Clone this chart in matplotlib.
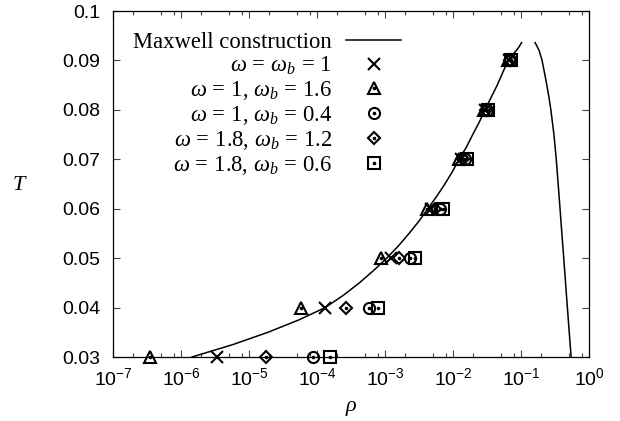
import matplotlib
matplotlib.use("Agg")
import matplotlib.pyplot as plt
from matplotlib.legend_handler import HandlerTuple
from matplotlib.ticker import LogLocator, NullFormatter, FixedLocator

# ---- data -------------------------------------------------------------
T_levels = [0.03, 0.04, 0.05, 0.06, 0.07, 0.08, 0.09]

rho_w1_wb1 = [3.4e-6, 1.32e-4, 1.23e-3, 4.8e-3, 1.32e-2, 2.95e-2, 6.6e-2]
rho_w1_wb16 = [3.5e-7, 5.8e-5, 8.7e-4, 4.2e-3, 1.23e-2, 2.9e-2, 6.4e-2]
rho_w1_wb04 = [8.7e-5, 5.8e-4, 2.35e-3, 6.5e-3, 1.5e-2, 3.15e-2, 7.0e-2]
rho_w18_wb12 = [1.78e-5, 2.7e-4, 1.63e-3, 5.5e-3, 1.4e-2, 3.05e-2, 6.8e-2]
rho_w18_wb06 = [1.55e-4, 7.9e-4, 2.77e-3, 7.1e-3, 1.6e-2, 3.25e-2, 7.1e-2]

# Maxwell construction: gas branch and liquid branch
T_gas = [0.030, 0.0325, 0.035, 0.0375, 0.040, 0.0425, 0.045, 0.0475, 0.050,
         0.0525, 0.055, 0.0575, 0.060, 0.0625, 0.065, 0.0675, 0.070, 0.0725,
         0.075, 0.0775, 0.080, 0.0825, 0.085, 0.0875, 0.090, 0.0925, 0.0936]
rho_gas = [1.45e-6, 5.75e-6, 1.9e-5, 5.4e-5, 1.32e-4, 2.45e-4, 4.2e-4, 6.8e-4,
           1.06e-3, 1.58e-3, 2.26e-3, 3.16e-3, 4.27e-3, 5.75e-3, 7.6e-3,
           9.8e-3, 1.23e-2, 1.58e-2, 1.95e-2, 2.43e-2, 2.95e-2, 3.63e-2,
           4.47e-2, 5.37e-2, 6.46e-2, 9.1e-2, 0.102]
T_liq = [0.0936, 0.093, 0.092, 0.090, 0.088, 0.085, 0.0825, 0.080, 0.075,
         0.070, 0.065, 0.060, 0.055, 0.050, 0.045, 0.040, 0.035, 0.030]
rho_liq = [0.161, 0.170, 0.185, 0.204, 0.218, 0.240, 0.258, 0.275, 0.305,
           0.330, 0.352, 0.375, 0.399, 0.425, 0.452, 0.481, 0.512, 0.546]

series_labels = [r"$\omega\,=\,\omega_b\,=\,1$",
                 r"$\omega\,=\,1$, $\omega_b\,=\,1.6$",
                 r"$\omega\,=\,1$, $\omega_b\,=\,0.4$",
                 r"$\omega\,=\,1.8$, $\omega_b\,=\,1.2$",
                 r"$\omega\,=\,1.8$, $\omega_b\,=\,0.6$"]

# ---- style ------------------------------------------------------------
plt.rcParams["font.family"] = ["Liberation Sans", "DejaVu Sans"]
plt.rcParams["mathtext.fontset"] = "custom"
plt.rcParams["mathtext.rm"] = "Liberation Serif"
plt.rcParams["mathtext.it"] = "Liberation Serif:italic"
plt.rcParams["mathtext.bf"] = "Liberation Serif:bold"
plt.rcParams["axes.unicode_minus"] = False

fig = plt.figure(figsize=(6.2, 4.21), dpi=100)
ax = fig.add_axes([113 / 620, 1 - 357 / 421, 476 / 620, 346 / 421])

ax.set_xscale("log")
ax.set_xlim(1e-7, 1e0)
ax.set_ylim(0.03, 0.1)

# Maxwell construction curve
line_m, = ax.plot(rho_gas, T_gas, color="black", lw=1.1, zorder=2)
ax.plot(rho_liq, T_liq, color="black", lw=1.1, zorder=2)

mk_kw = dict(linestyle="none", markerfacecolor="none", markeredgecolor="black",
             markeredgewidth=1.5, zorder=3, clip_on=False)
dot_kw = dict(linestyle="none", marker="o", markersize=1.6, color="black",
              zorder=4, clip_on=False)

h_x, = ax.plot(rho_w1_wb1, T_levels, marker="x", markersize=8, **mk_kw)
h_tri, = ax.plot(rho_w1_wb16, T_levels, marker="^", markersize=8.5, **mk_kw)
d_tri, = ax.plot(rho_w1_wb16, T_levels, **dot_kw)
h_cir, = ax.plot(rho_w1_wb04, T_levels, marker="o", markersize=8, **mk_kw)
d_cir, = ax.plot(rho_w1_wb04, T_levels, **dot_kw)
h_dia, = ax.plot(rho_w18_wb12, T_levels, marker="D", markersize=6.5, **mk_kw)
d_dia, = ax.plot(rho_w18_wb12, T_levels, **dot_kw)
h_sq, = ax.plot(rho_w18_wb06, T_levels, marker="s", markersize=8, **mk_kw)
d_sq, = ax.plot(rho_w18_wb06, T_levels, **dot_kw)

# ---- axes -------------------------------------------------------------
ax.xaxis.set_major_locator(LogLocator(base=10, numticks=20))
ax.xaxis.set_minor_locator(LogLocator(base=10, subs=(2.0, 5.0, 8.0), numticks=20))
ax.xaxis.set_minor_formatter(NullFormatter())
ax.yaxis.set_major_locator(FixedLocator(T_levels + [0.1]))
ax.set_yticklabels(["0.03", "0.04", "0.05", "0.06", "0.07", "0.08", "0.09", "0.1"])

ax.tick_params(which="both", direction="in", top=True, right=True,
               width=0.8, color="#444444")
ax.tick_params(which="major", length=5, labelsize=14)
ax.tick_params(axis="y", which="major", pad=9)
ax.tick_params(axis="x", which="major", pad=7)
ax.tick_params(which="minor", length=3)
for s in ax.spines.values():
    s.set_linewidth(0.9)

ax.set_xlabel(r"$\rho$", fontsize=16, labelpad=6)
ax.set_ylabel(r"$T$", fontsize=16, rotation=0, va="center", ha="center")
ax.yaxis.set_label_coords(-0.195, 0.5)

handles = [line_m, h_x, (h_tri, d_tri), (h_cir, d_cir), (h_dia, d_dia), (h_sq, d_sq)]
labels = ["Maxwell construction"] + series_labels
leg = ax.legend(handles, labels, loc="upper left", bbox_to_anchor=(0.043, 0.94),
                frameon=False, markerfirst=False, numpoints=1,
                handlelength=2.45, handletextpad=0.6, labelspacing=0.09,
                borderpad=0, borderaxespad=0,
                prop={"family": "Liberation Serif", "size": 16.3},
                handler_map={tuple: HandlerTuple(ndivide=1)})

fig.savefig("out.png", dpi=100)
